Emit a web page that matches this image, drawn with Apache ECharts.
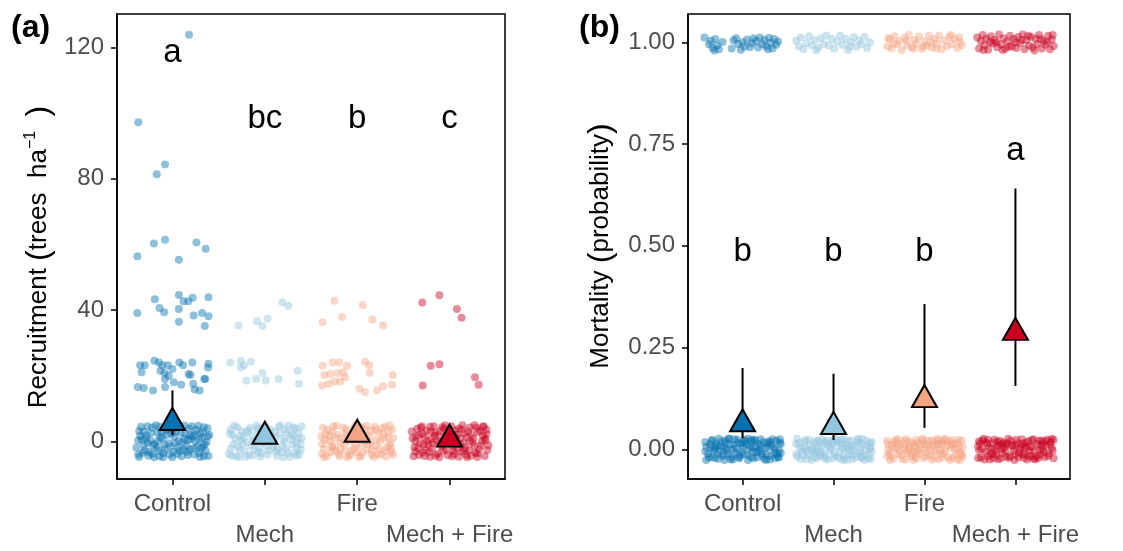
<!DOCTYPE html>
<html>
<head>
<meta charset="utf-8">
<script src="https://cdn.jsdelivr.net/npm/echarts@6/dist/echarts.min.js"></script>
<style>
  html, body { margin: 0; padding: 0; background: #fff; }
  #chart { width: 1123px; height: 551px; }
</style>
</head>
<body>
<div id="chart"></div>
<script>
// treatments and colours
const groups = ["Control", "Mech", "Fire", "Mech + Fire"];
const colors = ["#0571b0", "#92c5de", "#f4a582", "#ca0020"];

// (a) recruitment: [jitter offset, trees/ha]
const recControl = [
  [0.18,123.9],[-0.37,97.2],[-0.08,84.3],[-0.17,81.4],[-0.20,60.3],[-0.08,61.4],[0.26,60.6],[0.36,58.7],[-0.38,56.4],[0.07,55.3],
  [-0.38,39.1],[-0.19,43.3],[-0.14,40.6],[-0.09,39.3],[0.07,44.6],[0.12,42.7],[0.07,40.3],[0.22,43.7],[0.17,42.7],[0.23,38.3],
  [0.32,39.1],[0.39,43.9],[0.39,38.1],[0.07,36.4],[0.35,35.1],
  [-0.35,23.2],[-0.30,23.2],[-0.335,21.0],[-0.195,24.5],[-0.145,24.0],[-0.11,23.2],[-0.05,23.2],[-0.13,21.5],[-0.085,20.8],[0.0,22.0],
  [0.075,24.0],[0.115,23.2],[0.215,24.0],[0.39,23.6],[0.385,22.5],[0.195,20.2],[0.355,19.0],[-0.08,19.0],[-0.375,16.5],[-0.31,16.2],
  [-0.21,15.5],[-0.08,16.5],[0.015,18.0],[0.095,17.2],[0.225,17.5],[0.24,15.8],[0.295,15.5],[0.345,19.0],[0.175,20.5],[-0.04,20.0],
  [-0.36,3.1],[-0.31,-1.2],[-0.37,-4.0],[-0.28,1.8],[-0.25,-3.3],[-0.33,0.5],[-0.22,4.2],[-0.19,-0.8],[-0.16,2.6],[-0.14,-4.6],
  [-0.11,0.9],[-0.08,-2.5],[-0.05,3.7],[-0.02,-1.6],[0.02,1.4],[0.05,-3.9],[0.08,4.5],[0.11,-0.3],[0.14,2.2],[0.17,-4.2],
  [0.20,0.6],[0.23,-2.1],[0.26,3.4],[0.29,-3.6],[0.32,1.1],[0.35,-0.9],[0.38,4.0],[0.39,-4.5],[-0.30,-2.8],[-0.24,0.2],
  [-0.12,3.0],[0.0,-4.9],[0.12,-2.6],[0.25,-0.1],[0.33,2.8],[-0.35,1.6],[-0.20,-4.9],[-0.06,1.9],[0.07,0.1],[0.18,3.9],
  [0.30,-4.8],[-0.27,4.6],[-0.10,-3.6],[0.15,-1.4],[0.36,-2.9],[-0.17,-2.0],[0.04,2.9],[0.22,1.5],[-0.02,4.8],[0.28,4.7],
  [-0.39,-1.9],[-0.34,4.4],[-0.32,-3.5],[-0.29,0.9],[-0.26,-4.4],[-0.23,2.5],[-0.21,-1.3],[-0.18,4.9],[-0.15,-2.9],[-0.13,1.2],
  [-0.10,-4.9],[-0.07,3.3],[-0.04,-0.6],[-0.01,2.4],[0.01,-3.2],[0.03,4.2],[0.06,-1.9],[0.09,2.6],[0.10,-4.6],[0.13,0.7],
  [0.16,-3.3],[0.19,1.8],[0.21,4.6],[0.24,-4.0],[0.27,-1.6],[0.30,2.4],[0.31,-2.2],[0.34,4.3],[0.37,-0.2],[0.40,1.9],
  [-0.37,0.2],[-0.31,2.9],[-0.27,-0.5],[-0.22,-3.8],[-0.14,4.4],[-0.09,-1.1],[-0.03,-4.0],[0.03,-0.5],[0.08,-2.9],[0.13,4.8],
  [0.19,-2.4],[0.24,2.1],[0.29,0.5],[0.34,-4.6],[0.38,1.5],[-0.36,-4.8],[-0.16,0.1],[0.0,3.6],[0.17,0.4],[0.33,-1.6]
];
const recMech = [
  [0.19,42.3],[0.255,41.3],[-0.285,35.3],[-0.085,36.6],[0.03,37.4],[-0.025,35.1],
  [-0.375,24.0],[-0.26,24.5],[-0.225,23.2],[-0.15,24.2],[-0.26,22.5],[-0.20,18.5],[-0.095,19.0],[-0.025,20.8],[0.01,18.5],
  [0.15,19.0],[0.355,21.5],[0.37,17.5],
  [-0.38,2.4],[-0.34,-0.9],[-0.36,-4.4],[-0.30,4.3],[-0.27,-2.7],[-0.23,1.2],[-0.21,-4.8],[-0.18,3.3],[-0.15,-1.5],[-0.12,0.3],
  [-0.09,4.8],[-0.07,-3.2],[-0.04,2.0],[-0.01,-0.4],[0.03,-4.1],[0.06,3.6],[0.09,-1.9],[0.12,1.0],[0.15,4.4],[0.18,-3.4],
  [0.21,0.0],[0.24,2.7],[0.27,-4.7],[0.30,-1.1],[0.33,3.9],[0.36,0.8],[0.39,-2.6],[0.40,4.6],[-0.32,0.7],[-0.25,3.1],
  [-0.13,-4.3],[-0.03,4.2],[0.08,0.5],[0.20,-4.9],[0.31,1.7],[0.37,-4.1],[-0.37,-2.2],[-0.19,-0.3],[0.0,1.6],[0.14,-2.6],
  [0.26,4.8],[-0.28,-4.9],[-0.06,-2.0],[0.11,3.0],[0.34,-0.3],
  [-0.39,-3.8],[-0.35,1.9],[-0.33,4.8],[-0.29,-1.7],[-0.26,0.3],[-0.22,-3.0],[-0.20,2.6],[-0.17,-4.2],[-0.14,1.8],[-0.11,-2.4],
  [-0.08,3.9],[-0.05,-4.7],[-0.02,0.9],[0.01,4.4],[0.04,-2.8],[0.07,1.5],[0.10,-0.8],[0.13,-4.5],[0.16,2.3],[0.19,-1.3],
  [0.22,3.6],[0.25,-3.5],[0.28,0.6],[0.31,4.2],[0.34,-4.4],[0.37,2.7],[0.39,-0.9],[-0.37,3.6],[-0.31,-4.6],[-0.24,-0.8],
  [-0.16,4.1],[-0.10,-0.1],[-0.04,-3.6],[0.05,0.0],[0.12,-3.1],[0.17,4.9],[0.23,-2.3],[0.29,2.1],[0.35,-2.0],[0.40,0.9],
  [-0.27,1.6],[-0.07,2.8],[0.02,-1.4],[0.21,1.0],[0.32,-3.6]
];
const recFire = [
  [-0.245,42.8],[0.06,41.5],[-0.375,36.3],[-0.165,37.9],[0.165,37.1],[0.28,35.3],
  [-0.375,23.0],[-0.265,24.0],[-0.195,24.0],[-0.11,23.0],[-0.355,20.2],[-0.29,20.5],[-0.21,20.8],[-0.15,21.0],[-0.13,19.5],
  [-0.38,17.0],[-0.31,17.5],[-0.245,18.2],[-0.185,18.2],[0.085,24.2],[0.13,23.2],[0.135,20.8],[0.385,20.2],[0.085,15.0],
  [0.025,16.0],[0.215,15.5],[0.28,16.8],[0.375,17.2],
  [-0.39,1.5],[-0.36,-2.3],[-0.37,4.1],[-0.33,-4.6],[-0.30,0.2],[-0.27,2.9],[-0.25,-1.7],[-0.22,4.7],[-0.20,-3.9],[-0.17,1.0],
  [-0.14,-0.6],[-0.12,3.5],[-0.09,-4.4],[-0.06,2.3],[-0.03,-2.1],[0.0,0.7],[0.03,4.4],[0.06,-3.5],[0.09,1.9],[0.12,-0.9],
  [0.15,3.2],[0.18,-4.8],[0.21,0.4],[0.24,-2.4],[0.27,4.0],[0.30,-3.0],[0.33,1.3],[0.36,-0.5],[0.38,3.6],[0.39,-4.2],
  [-0.34,2.1],[-0.29,-3.4],[-0.18,-2.5],[-0.08,0.0],[0.05,-1.2],[0.16,-2.7],[0.28,2.2],[0.35,4.9],[-0.24,0.9],[-0.11,-4.9],
  [0.02,-4.9],[0.10,4.7],[0.22,-4.1],[0.32,-1.9],[-0.38,-0.8],
  [-0.38,-3.8],[-0.35,0.4],[-0.32,3.4],[-0.28,-1.3],[-0.26,4.6],[-0.23,-3.0],[-0.21,2.0],[-0.18,-0.3],[-0.15,4.2],[-0.13,-2.7],
  [-0.10,1.4],[-0.07,-4.0],[-0.04,3.9],[-0.01,-1.0],[0.01,2.8],[0.04,-4.5],[0.07,0.2],[0.08,3.7],[0.11,-2.6],[0.13,1.6],
  [0.16,-4.1],[0.19,4.5],[0.20,-1.5],[0.23,2.6],[0.26,-3.9],[0.29,0.9],[0.31,-4.7],[0.34,3.0],[0.37,-2.5],[0.39,1.0],
  [-0.36,-4.9],[-0.30,1.7],[-0.19,-4.6],[-0.06,-2.8],[0.0,-3.3],[0.11,0.1],[0.20,3.4],[0.25,0.0],[0.37,-3.4],[-0.27,-2.0],
  [-0.12,2.1],[0.14,-0.2],[0.30,4.4],[-0.02,4.9],[0.35,-1.2]
];
const recMechFire = [
  [-0.295,42.3],[-0.11,44.5],[0.08,40.3],[0.13,37.6],
  [-0.205,23.0],[-0.11,23.5],[-0.29,17.0],[0.275,19.5],[0.315,17.2],
  [-0.40,0.9],[-0.37,-3.1],[-0.35,3.8],[-0.32,-0.6],[-0.29,2.2],[-0.27,-4.5],[-0.24,0.1],[-0.21,4.4],[-0.19,-2.2],[-0.16,1.6],
  [-0.13,-3.8],[-0.10,3.1],[-0.08,-0.9],[-0.05,4.9],[-0.02,-4.3],[0.01,2.5],[0.04,-1.6],[0.07,0.6],[0.10,-4.7],[0.13,3.6],
  [0.16,-2.9],[0.19,1.2],[0.22,4.2],[0.25,-0.4],[0.28,-3.5],[0.31,2.8],[0.34,-1.3],[0.37,4.6],[0.39,0.3],[0.41,-2.7],
  [-0.38,-1.8],[-0.33,1.9],[-0.26,-2.6],[-0.20,2.9],[-0.14,0.0],[-0.07,-3.0],[0.0,-0.3],[0.06,3.3],[0.12,1.0],[0.18,-4.1],
  [0.24,2.0],[0.30,-4.8],[0.36,1.7],[-0.30,4.6],[-0.11,-4.9],[0.09,-2.1],[0.27,4.9],[0.40,3.5],[-0.23,-1.1],[0.15,-0.5],
  [-0.39,-4.6],[-0.36,1.5],[-0.34,-2.1],[-0.31,4.1],[-0.28,-1.0],[-0.25,3.2],[-0.22,-3.3],[-0.20,0.7],[-0.17,4.6],[-0.15,-4.4],
  [-0.12,1.8],[-0.09,-1.6],[-0.06,3.9],[-0.04,-2.6],[-0.01,0.9],[0.02,4.6],[0.05,-3.9],[0.08,2.0],[0.11,-0.9],[0.14,4.9],
  [0.17,-1.9],[0.20,3.0],[0.23,-4.4],[0.26,0.9],[0.29,4.1],[0.32,-2.4],[0.35,0.0],[0.38,-4.5],[0.40,2.2],[0.42,-1.2],
  [-0.41,3.0],[-0.37,0.0],[-0.33,-4.2],[-0.27,1.2],[-0.21,-4.7],[-0.16,2.6],[-0.10,-0.4],[-0.03,1.8],[0.03,-4.6],[0.06,1.4],
  [0.13,-3.2],[0.16,2.4],[0.21,-2.6],[0.27,-1.4],[0.33,3.2],[0.38,0.9],[-0.29,-3.4],[-0.18,-0.6],[-0.08,4.3],[0.04,-2.9],
  [0.10,3.9],[0.22,0.1],[0.30,-3.7],[0.36,4.4],[0.19,-4.9]
];

// (b) mortality: [jitter offset, dead (0/1) with vertical jitter]
const mortControl = [
  [-0.41,0.018],[-0.38,-0.012],[-0.35,0.004],[-0.33,0.024],[-0.30,-0.021],[-0.28,0.009],[-0.25,-0.004],[-0.23,0.020],[-0.20,-0.016],[-0.18,0.002],
  [-0.15,0.026],[-0.13,-0.024],[-0.10,0.011],[-0.08,-0.008],[-0.05,0.017],[-0.03,-0.019],[0.0,0.006],[0.02,0.023],[0.05,-0.013],[0.07,0.001],
  [0.10,0.019],[0.12,-0.022],[0.15,0.008],[0.17,-0.006],[0.20,0.025],[0.22,-0.017],[0.25,0.003],[0.27,0.015],[0.30,-0.025],[0.32,0.010],
  [0.35,-0.009],[0.37,0.021],[0.40,-0.003],[0.42,0.013],[-0.40,-0.026],[-0.36,0.013],[-0.31,0.0],[-0.26,0.026],[-0.21,0.005],[-0.16,-0.010],
  [-0.11,-0.025],[-0.06,0.024],[-0.01,-0.005],[0.04,0.012],[0.09,-0.019],[0.14,0.022],[0.19,-0.001],[0.24,-0.024],[0.29,0.020],[0.34,0.004],
  [0.39,-0.018],[0.41,0.025],[-0.34,-0.019],[-0.19,0.016],[-0.04,-0.014],[0.11,0.004],[0.26,-0.012],[0.36,-0.022],[-0.27,-0.011],[0.06,0.026],
  [-0.40,0.006],[-0.37,-0.020],[-0.34,0.021],[-0.32,-0.004],[-0.29,0.015],[-0.27,-0.023],[-0.24,0.008],[-0.22,-0.013],[-0.19,0.022],[-0.17,-0.002],
  [-0.14,0.012],[-0.12,-0.018],[-0.09,0.025],[-0.07,0.003],[-0.04,-0.022],[-0.02,0.014],[0.01,-0.011],[0.03,0.020],[0.06,-0.026],[0.08,0.008],
  [0.11,-0.006],[0.13,0.024],[0.16,-0.019],[0.18,0.013],[0.21,-0.010],[0.23,0.018],[0.26,-0.026],[0.28,0.006],[0.31,-0.015],[0.33,0.025],
  [0.36,0.001],[0.38,-0.012],[0.41,0.017],[0.42,-0.009],[-0.41,-0.005],[-0.30,0.006],[-0.20,-0.026],[-0.10,0.001],[0.0,0.016],[0.10,0.024],
  [0.20,0.009],[0.30,0.017],[0.40,-0.020],[-0.15,0.026],[0.15,-0.007],
  [-0.42,1.012],[-0.37,0.995],[-0.35,1.004],[-0.33,0.986],[-0.30,1.008],[-0.28,0.992],[-0.26,0.983],[-0.22,1.001],[-0.12,0.985],[-0.10,1.005],
  [-0.07,1.010],[-0.05,0.996],[0.0,1.0],[0.02,0.990],[0.05,1.007],[0.08,0.988],[0.10,0.998],[0.12,1.010],[0.15,1.003],[0.17,0.987],
  [0.19,1.012],[0.22,0.995],[0.24,1.006],[0.26,0.990],[0.29,1.011],[0.31,0.999],[0.33,0.985],[0.35,1.008],[0.37,0.994],[0.39,1.002],
  [-0.31,0.980],[-0.02,0.982],[0.28,0.983]
];
const mortMech = [
  [-0.41,-0.011],[-0.38,0.016],[-0.36,-0.024],[-0.33,0.005],[-0.31,0.023],[-0.28,-0.015],[-0.26,0.011],[-0.23,-0.002],[-0.21,0.020],[-0.18,-0.021],
  [-0.16,0.007],[-0.13,0.025],[-0.11,-0.009],[-0.08,0.014],[-0.06,-0.025],[-0.03,0.001],[-0.01,0.019],[0.02,-0.017],[0.04,0.008],[0.07,-0.005],
  [0.09,0.024],[0.12,-0.023],[0.14,0.012],[0.17,-0.011],[0.19,0.021],[0.22,0.0],[0.24,-0.019],[0.27,0.017],[0.29,-0.007],[0.32,0.026],
  [0.34,-0.026],[0.37,0.009],[0.39,-0.014],[0.42,0.019],[-0.40,0.026],[-0.35,-0.004],[-0.24,-0.026],[-0.19,0.016],[-0.09,-0.018],[0.0,0.024],
  [0.10,0.003],[0.20,-0.014],[0.30,0.006],[0.40,0.002],[-0.30,0.001],[-0.14,-0.012],[0.05,0.018],[0.15,-0.026],[0.26,0.024],[0.35,-0.002],
  [-0.05,0.008],[0.11,0.025],[-0.21,-0.008],[0.31,-0.021],[0.41,-0.024],
  [-0.40,-0.018],[-0.37,0.004],[-0.34,-0.013],[-0.32,0.019],[-0.29,-0.006],[-0.27,0.024],[-0.24,0.004],[-0.22,-0.019],[-0.19,0.001],[-0.17,0.022],
  [-0.14,-0.005],[-0.12,0.009],[-0.09,-0.023],[-0.07,0.021],[-0.04,-0.004],[-0.02,0.012],[0.01,-0.009],[0.03,0.025],[0.06,-0.021],[0.08,0.015],
  [0.11,-0.015],[0.13,0.003],[0.16,0.021],[0.18,-0.003],[0.21,-0.024],[0.23,0.009],[0.26,-0.008],[0.28,0.026],[0.31,0.012],[0.33,-0.013],
  [0.36,0.021],[0.38,-0.023],[0.41,0.005],[0.42,-0.006],[-0.41,0.013],[-0.30,-0.024],[-0.20,-0.007],[-0.10,0.020],[0.0,-0.021],[0.10,-0.026],
  [0.20,0.008],[0.30,-0.018],[0.40,0.015],[-0.15,-0.017],[0.15,0.006],
  [-0.41,1.004],[-0.38,0.990],[-0.36,1.012],[-0.33,0.983],[-0.30,0.998],[-0.27,1.015],[-0.24,0.993],[-0.21,1.006],[-0.17,0.987],[-0.14,1.010],
  [-0.11,0.996],[-0.08,1.017],[-0.05,0.992],[-0.02,1.008],[0.01,0.985],[0.04,1.002],[0.07,1.016],[0.10,0.994],[0.13,1.009],[0.16,0.981],
  [0.19,1.001],[0.22,1.013],[0.25,0.989],[0.28,1.005],[0.31,0.995],[0.34,1.014],[0.37,0.986],[0.40,1.0],[-0.19,0.980],[0.18,0.990]
];
const mortFire = [
  [-0.41,0.021],[-0.39,-0.008],[-0.36,0.010],[-0.34,-0.023],[-0.31,0.003],[-0.29,0.025],[-0.26,-0.014],[-0.24,0.014],[-0.21,-0.025],[-0.19,-0.003],
  [-0.16,0.019],[-0.14,-0.018],[-0.11,0.006],[-0.09,0.024],[-0.06,-0.010],[-0.04,0.013],[-0.01,-0.022],[0.01,0.002],[0.04,0.021],[0.06,-0.015],
  [0.09,0.009],[0.11,-0.004],[0.14,0.026],[0.16,-0.024],[0.19,0.011],[0.21,-0.009],[0.24,0.018],[0.26,-0.020],[0.29,0.004],[0.31,0.023],
  [0.34,-0.012],[0.36,0.015],[0.39,-0.026],[0.42,0.006],[-0.38,-0.026],[-0.33,0.018],[-0.22,0.003],[-0.12,-0.026],[-0.02,0.026],[0.08,-0.025],
  [0.18,0.0],[0.28,-0.026],[0.38,0.024],[-0.27,-0.004],[-0.07,0.0],[0.13,0.012],[0.33,0.003],[-0.17,0.008],[0.03,-0.009],[0.23,0.026],
  [0.41,-0.013],[-0.40,0.0],[-0.10,-0.013],[0.20,0.018],[0.37,-0.005],
  [-0.40,0.013],[-0.37,-0.016],[-0.34,0.002],[-0.32,0.024],[-0.29,-0.011],[-0.27,0.009],[-0.24,-0.024],[-0.22,0.021],[-0.19,-0.008],[-0.17,0.003],
  [-0.14,0.016],[-0.12,-0.006],[-0.09,-0.022],[-0.07,0.017],[-0.04,-0.003],[-0.02,0.021],[0.01,-0.017],[0.03,0.011],[0.06,0.001],[0.08,0.022],
  [0.11,-0.022],[0.13,-0.004],[0.16,0.013],[0.18,-0.012],[0.21,0.024],[0.23,-0.003],[0.26,0.010],[0.28,0.020],[0.31,-0.020],[0.33,0.013],
  [0.36,-0.024],[0.38,0.004],[0.41,0.021],[0.42,-0.018],[-0.41,-0.017],[-0.30,0.016],[-0.20,0.025],[-0.10,0.010],[0.0,0.013],[0.10,0.016],
  [0.20,-0.019],[0.30,0.011],[0.40,-0.009],[-0.15,-0.011],[0.15,0.021],
  [-0.41,0.990],[-0.38,1.008],[-0.36,0.985],[-0.33,1.015],[-0.30,0.996],[-0.28,1.003],[-0.25,0.981],[-0.22,1.011],[-0.19,0.992],[-0.17,1.018],
  [-0.14,0.988],[-0.11,1.006],[-0.09,0.997],[-0.06,1.014],[-0.03,0.984],[0.0,1.002],[0.03,0.993],[0.05,1.016],[0.08,0.987],[0.11,1.008],
  [0.14,0.998],[0.16,1.017],[0.19,0.983],[0.22,1.004],[0.25,0.991],[0.27,1.013],[0.30,0.995],[0.33,1.009],[0.36,0.986],[0.39,1.001],
  [0.41,0.993],[-0.34,0.996],[-0.20,1.004],[-0.01,0.990],[0.13,0.985],[0.29,1.018],[0.38,1.012],[-0.40,1.010],[0.07,1.0],[-0.12,0.984]
];
const mortMechFire = [
  [-0.41,0.008],[-0.38,-0.020],[-0.36,0.022],[-0.33,-0.006],[-0.31,0.014],[-0.28,-0.025],[-0.26,0.002],[-0.23,0.024],[-0.21,-0.013],[-0.18,0.010],
  [-0.16,-0.022],[-0.13,0.017],[-0.11,-0.003],[-0.08,0.026],[-0.06,-0.017],[-0.03,0.007],[-0.01,-0.026],[0.02,0.015],[0.04,-0.008],[0.07,0.025],
  [0.09,-0.021],[0.12,0.004],[0.14,0.020],[0.17,-0.015],[0.19,0.006],[0.22,-0.024],[0.24,0.013],[0.27,-0.002],[0.29,0.022],[0.32,-0.019],
  [0.34,0.009],[0.37,-0.010],[0.39,0.018],[0.42,-0.022],[-0.40,-0.002],[-0.35,0.026],[-0.25,-0.010],[-0.15,0.001],[-0.05,0.021],[0.05,0.0],
  [0.15,-0.003],[0.25,-0.021],[0.35,0.024],[-0.30,-0.016],[-0.10,0.012],[0.10,-0.011],[0.30,0.001],[-0.20,0.019],[0.0,-0.012],[0.20,0.025],
  [0.40,0.004],[-0.39,0.015],[0.08,0.014],[-0.24,-0.022],[0.28,-0.013],
  [-0.40,0.020],[-0.37,0.001],[-0.34,-0.025],[-0.32,0.017],[-0.29,0.005],[-0.27,-0.012],[-0.24,0.016],[-0.22,-0.004],[-0.19,-0.024],[-0.17,0.021],
  [-0.14,-0.009],[-0.12,0.005],[-0.09,0.015],[-0.07,-0.021],[-0.04,0.011],[-0.02,-0.004],[0.01,0.024],[0.03,-0.019],[0.06,0.006],[0.08,-0.013],
  [0.11,0.017],[0.13,-0.025],[0.16,0.008],[0.18,0.023],[0.21,-0.005],[0.23,-0.016],[0.26,0.021],[0.28,0.009],[0.31,-0.006],[0.33,0.020],
  [0.36,-0.016],[0.38,0.012],[0.41,-0.003],[0.42,0.023],[-0.41,-0.021],[-0.30,0.024],[-0.20,0.005],[-0.10,-0.018],[0.0,0.010],[0.10,0.008],
  [0.20,-0.023],[0.30,0.015],[0.40,0.026],[-0.15,0.014],[0.15,-0.018],
  [-0.42,1.012],[-0.40,0.985],[-0.38,1.003],[-0.36,1.018],[-0.34,0.993],[-0.32,1.009],[-0.30,0.982],[-0.27,1.015],[-0.25,0.997],[-0.23,1.006],
  [-0.20,0.988],[-0.18,1.019],[-0.16,0.995],[-0.13,1.010],[-0.11,0.984],[-0.09,1.002],[-0.06,1.016],[-0.04,0.990],[-0.02,1.008],[0.01,0.986],
  [0.03,1.013],[0.05,0.998],[0.08,1.019],[0.10,0.983],[0.12,1.005],[0.15,0.992],[0.17,1.014],[0.19,0.987],[0.22,1.009],[0.24,0.996],
  [0.26,1.018],[0.29,0.985],[0.31,1.004],[0.33,0.994],[0.36,1.016],[0.38,0.983],[0.40,1.007],[0.42,0.991],[-0.35,0.981],[-0.21,1.0],
  [-0.07,0.990],[0.07,1.006],[0.21,0.980],[0.35,1.001],[-0.28,1.0],[-0.14,0.981],[0.0,1.0],[0.14,1.016],[0.28,1.008],[0.41,1.018]
];

// model estimates with intervals
const recMean = [6.8, 2.6, 3.2, 1.7];
const recLow = [1.8, 1.0, 1.5, 0.5];
const recHigh = [15.5, 5.0, 6.0, 3.5];
const mortMean = [0.0715, 0.065, 0.131, 0.296];
const mortLow = [0.027, 0.023, 0.053, 0.156];
const mortHigh = [0.200, 0.186, 0.357, 0.641];

// significance letters
const recLetters = ["a", "bc", "b", "c"];
const recLetterY = [118.3, 98.3, 98.3, 98.3];
const mortLetters = ["b", "b", "b", "a"];
const mortLetterY = [0.484, 0.484, 0.484, 0.734];

const recTicks = [0, 40, 80, 120];
const mortTicks = [0, 0.25, 0.5, 0.75, 1];

const FONT = "Liberation Sans, Arial, Helvetica, sans-serif";
const chart = echarts.init(document.getElementById("chart"));

function xAxisFor(gridIndex) {
  return {
    gridIndex: gridIndex, type: "value", min: 0.4, max: 4.6,
    splitLine: { show: false },
    axisLine: { show: true, onZero: false, lineStyle: { color: "#000", width: 1.5 } },
    axisTick: { show: true, customValues: [1, 2, 3, 4], length: 6, lineStyle: { color: "#000", width: 1.5 } },
    axisLabel: {
      customValues: [1, 2, 3, 4], margin: 10, color: "#4d4d4d", fontSize: 24,
      fontFamily: FONT, lineHeight: 31,
      formatter: function (v) {
        const i = Math.round(v) - 1;
        return (i % 2 ? "\n" : "") + groups[i];
      }
    }
  };
}
function yAxisFor(gridIndex, min, max, ticks, fmt) {
  return {
    gridIndex: gridIndex, type: "value", min: min, max: max,
    splitLine: { show: false },
    axisLine: { show: true, onZero: false, lineStyle: { color: "#000", width: 1.5 } },
    axisTick: { show: true, customValues: ticks, length: 6, lineStyle: { color: "#000", width: 1.5 } },
    axisLabel: { customValues: ticks, margin: 13, color: "#4d4d4d", fontSize: 24, fontFamily: FONT, formatter: fmt }
  };
}

const pointSets = [
  [recControl, recMech, recFire, recMechFire],
  [mortControl, mortMech, mortFire, mortMechFire]
];
const series = [];
pointSets.forEach(function (sets, panel) {
  sets.forEach(function (pts, g) {
    series.push({
      type: "scatter", xAxisIndex: panel, yAxisIndex: panel,
      symbolSize: 8,
      itemStyle: { color: colors[g], opacity: 0.45 },
      data: pts.map(function (p) { return [g + 1 + p[0], p[1]]; }),
      z: 2
    });
  });
});

function errorBars(panel, low, high) {
  return {
    type: "custom", xAxisIndex: panel, yAxisIndex: panel, z: 3,
    data: low.map(function (l, i) { return [i + 1, l, high[i]]; }),
    encode: { x: 0, y: [1, 2] },
    renderItem: function (params, api) {
      const a = api.coord([api.value(0), api.value(1)]);
      const b = api.coord([api.value(0), api.value(2)]);
      return { type: "line", shape: { x1: a[0], y1: a[1], x2: b[0], y2: b[1] }, style: { stroke: "#000", lineWidth: 2 } };
    }
  };
}
function triangles(panel, mean) {
  return {
    type: "scatter", xAxisIndex: panel, yAxisIndex: panel, z: 4,
    symbol: "triangle", symbolSize: [25, 22],
    data: mean.map(function (m, i) {
      return { value: [i + 1, m], itemStyle: { color: colors[i], opacity: 1, borderColor: "#000", borderWidth: 2 } };
    })
  };
}
function letters(panel, txt, ys) {
  return {
    type: "scatter", xAxisIndex: panel, yAxisIndex: panel, z: 5,
    symbolSize: 0, silent: true,
    itemStyle: { opacity: 1 },
    label: { show: true, position: "inside", color: "#000", fontSize: 33, fontFamily: FONT, formatter: "{b}" },
    data: txt.map(function (t, i) { return { name: t, value: [i + 1, ys[i]] }; })
  };
}

series.push(errorBars(0, recLow, recHigh), triangles(0, recMean), letters(0, recLetters, recLetterY));
series.push(errorBars(1, mortLow, mortHigh), triangles(1, mortMean), letters(1, mortLetters, mortLetterY));

const titleRich = {
  w: { fontSize: 26, fontFamily: FONT, color: "#000" },
  p: { fontSize: 32, fontFamily: FONT, color: "#000" },
  s: { fontSize: 16, fontFamily: FONT, color: "#000", verticalAlign: "top" }
};

chart.setOption({
  animation: false,
  backgroundColor: "#fff",
  grid: [
    { left: 117, top: 14, width: 388, height: 471, show: true, borderColor: "#000", borderWidth: 1.5 },
    { left: 688, top: 14, width: 382, height: 471, show: true, borderColor: "#000", borderWidth: 1.5 }
  ],
  xAxis: [xAxisFor(0), xAxisFor(1)],
  yAxis: [
    yAxisFor(0, -11.5, 130.2, recTicks, function (v) { return String(v); }),
    yAxisFor(1, -0.0727, 1.0696, mortTicks, function (v) { return v.toFixed(2); })
  ],
  graphic: [
    { type: "text", left: 11, top: 12, style: { text: "(a)", fontSize: 32, fontWeight: "bold", fontFamily: FONT, fill: "#000" } },
    { type: "text", left: 579, top: 12, style: { text: "(b)", fontSize: 32, fontWeight: "bold", fontFamily: FONT, fill: "#000" } },
    { type: "text", x: 39, y: 257, rotation: Math.PI / 2,
      style: { text: "{w|Recruitment }{p|(}{w|trees  ha}{s|\u22121}{w|  }{p|)}", rich: titleRich, align: "center", verticalAlign: "middle" } },
    { type: "text", x: 601, y: 246, rotation: Math.PI / 2,
      style: { text: "{w|Mortality }{p|(}{w|probability}{p|)}", rich: titleRich, align: "center", verticalAlign: "middle" } }
  ],
  series: series
});
</script>
</body>
</html>
